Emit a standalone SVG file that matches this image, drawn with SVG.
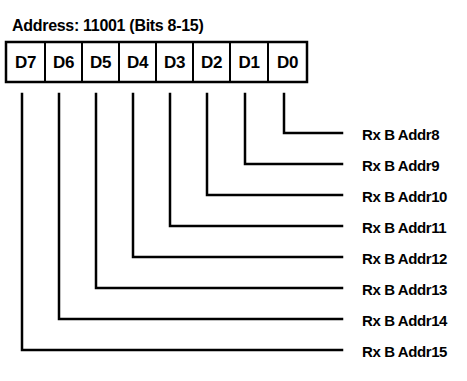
<svg xmlns="http://www.w3.org/2000/svg" width="467" height="381" viewBox="0 0 467 381">
<style>
text{font-family:"Liberation Sans",Arial,sans-serif;font-weight:bold;fill:#000}
.t{font-size:16px;letter-spacing:-0.3px}
.c{font-size:17px;text-anchor:middle;letter-spacing:-0.4px}
.l{font-size:15px;letter-spacing:-0.4px}
.w{fill:none;stroke:#000;stroke-width:2.5;stroke-linejoin:miter;stroke-linecap:square}
.d{stroke:#000;stroke-width:2}
</style>
<rect width="467" height="381" fill="#fff"/>
<g id="title"><text class="t" x="12" y="31">Address: 11001 (Bits 8-15)</text></g>
<g id="register">
<rect class="w" x="6" y="42" width="301" height="40"/>
<line class="d" x1="45" y1="42" x2="45" y2="82"/>
<line class="d" x1="82" y1="42" x2="82" y2="82"/>
<line class="d" x1="119" y1="42" x2="119" y2="82"/>
<line class="d" x1="156" y1="42" x2="156" y2="82"/>
<line class="d" x1="193" y1="42" x2="193" y2="82"/>
<line class="d" x1="230" y1="42" x2="230" y2="82"/>
<line class="d" x1="268" y1="42" x2="268" y2="82"/>
<text class="c" x="25.5" y="68">D7</text>
<text class="c" x="63.5" y="68">D6</text>
<text class="c" x="100.5" y="68">D5</text>
<text class="c" x="137.5" y="68">D4</text>
<text class="c" x="174.5" y="68">D3</text>
<text class="c" x="211.5" y="68">D2</text>
<text class="c" x="249" y="68">D1</text>
<text class="c" x="287.5" y="68">D0</text>
</g>
<g id="connectors">
<polyline class="w" points="284,94 284,133 342,133"/>
<polyline class="w" points="245,94 245,164 342,164"/>
<polyline class="w" points="207,94 207,195 342,195"/>
<polyline class="w" points="170,94 170,226 342,226"/>
<polyline class="w" points="133,94 133,257 342,257"/>
<polyline class="w" points="96,94 96,288 342,288"/>
<polyline class="w" points="59,94 59,319 342,319"/>
<polyline class="w" points="22,94 22,350 342,350"/>
</g>
<g id="labels">
<g id="addr8"><text class="l" x="362" y="140">Rx B Addr8</text></g>
<g id="addr9"><text class="l" x="362" y="171">Rx B Addr9</text></g>
<g id="addr10"><text class="l" x="362" y="202">Rx B Addr10</text></g>
<g id="addr11"><text class="l" x="362" y="233">Rx B Addr11</text></g>
<g id="addr12"><text class="l" x="362" y="264">Rx B Addr12</text></g>
<g id="addr13"><text class="l" x="362" y="295">Rx B Addr13</text></g>
<g id="addr14"><text class="l" x="362" y="326">Rx B Addr14</text></g>
<g id="addr15"><text class="l" x="362" y="357">Rx B Addr15</text></g>
</g>
</svg>
